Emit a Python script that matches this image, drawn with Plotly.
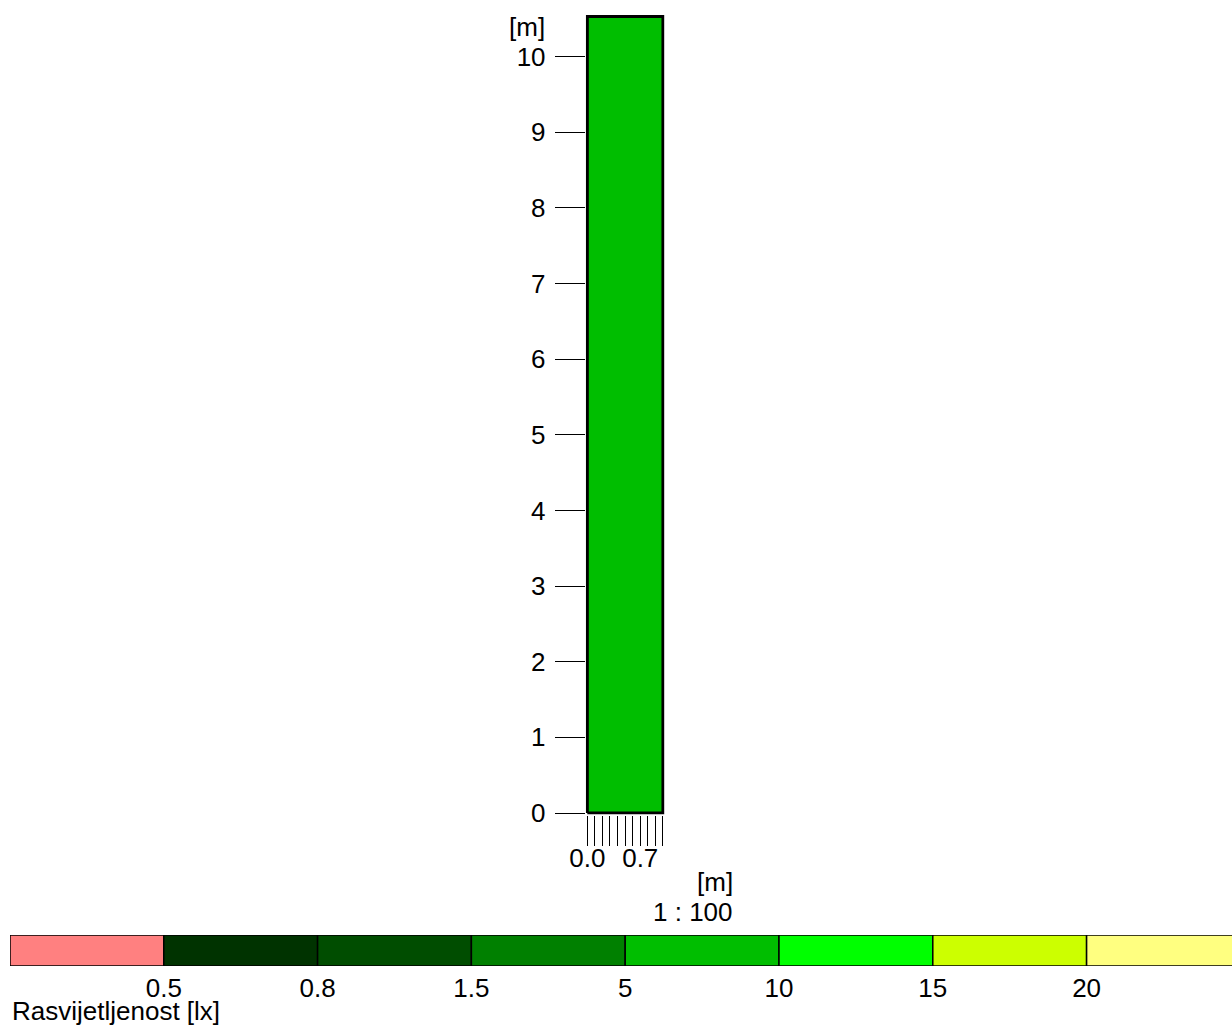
import plotly.graph_objects as go

# ---- data ----
room_width = 1.0          # m
room_length = 10.53       # m
room_value_color = "#00BE00"   # 5 - 10 lx class

y_tick_vals = [0, 1, 2, 3, 4, 5, 6, 7, 8, 9, 10]
x_tick_vals = [0.0, 0.1, 0.2, 0.3, 0.4, 0.5, 0.6, 0.7, 0.8, 0.9, 1.0]
x_tick_text = ["0.0", "", "", "", "", "", "", "0.7", "", "", ""]

legend_bounds = ["0.5", "0.8", "1.5", "5", "10", "15", "20"]
legend_colors = ["#FF8080", "#003300", "#004D00", "#008000",
                 "#00BE00", "#00FF00", "#CCFF00", "#FFFF80"]
legend_title = "Rasvijetljenost [lx]"
scale_text = "1 : 100"
unit_text = "[m]"

W, H = 1232, 1025
FONT = "Liberation Sans, Arial, sans-serif"
FS = 26

# pixel mapping of the plan (equal scale)
px_per_m = 75.65
x0_px, y0_px = 587.3, 813.0
x_rng = [-0.02, 1.02]
y_rng = [-0.02, 10.6]

fig = go.Figure()

# room outline
fig.add_trace(go.Scatter(
    x=[0, room_width, room_width, 0, 0],
    y=[0, 0, room_length, room_length, 0],
    mode="lines", fill="toself", fillcolor=room_value_color,
    line=dict(color="black", width=3),
    hoverinfo="skip", showlegend=False, xaxis="x", yaxis="y"))

# legend colour scale
n = len(legend_colors)
fig.add_trace(go.Bar(
    x=[1] * n, base=list(range(n)), y=[0] * n, orientation="h",
    width=1, marker=dict(color=legend_colors, line=dict(color="black", width=1.5)),
    hoverinfo="skip", showlegend=False, xaxis="x2", yaxis="y2"))

seg_px = 153.8
fig.update_layout(
    template="none",
    width=W, height=H, margin=dict(l=0, r=0, t=0, b=0, pad=0, autoexpand=False),
    paper_bgcolor="white", plot_bgcolor="white",
    font=dict(family=FONT, size=FS, color="black"),
    barmode="overlay", showlegend=False,
    xaxis=dict(domain=[(x0_px + x_rng[0] * px_per_m) / W, (x0_px + x_rng[1] * px_per_m) / W],
               range=x_rng, tickvals=x_tick_vals, ticktext=x_tick_text,
               ticks="outside", ticklen=30, tickwidth=1, tickcolor="black",
               ticklabelstandoff=-10, automargin=False,
               showgrid=False, zeroline=False, showline=False,
               tickfont=dict(size=FS), fixedrange=True),
    yaxis=dict(domain=[(H - (y0_px - y_rng[0] * px_per_m)) / H, (H - (y0_px - y_rng[1] * px_per_m)) / H],
               range=y_rng, tickvals=y_tick_vals,
               ticks="outside", ticklen=30, tickwidth=1, tickcolor="black",
               ticklabelstandoff=4, automargin=False,
               showgrid=False, zeroline=False, showline=False,
               tickfont=dict(size=FS), fixedrange=True),
    xaxis2=dict(domain=[10 / W, 1], range=[0, (W - 10) / seg_px], anchor="y2",
                tickvals=list(range(1, n)), ticktext=legend_bounds,
                ticks="", ticklabelstandoff=4, automargin=False,
                showgrid=False, zeroline=False, showline=False,
                tickfont=dict(size=FS), fixedrange=True),
    yaxis2=dict(domain=[(H - 966) / H, (H - 935) / H], range=[-0.5, 0.5],
                anchor="x2", visible=False, automargin=False, fixedrange=True),
    annotations=[
        dict(text=unit_text, xref="paper", yref="paper", x=527 / W, y=1 - 27 / H,
             xanchor="center", yanchor="middle", showarrow=False),
        dict(text=unit_text, xref="paper", yref="paper", x=715 / W, y=1 - 882 / H,
             xanchor="center", yanchor="middle", showarrow=False),
        dict(text=scale_text, xref="paper", yref="paper", x=693 / W, y=1 - 912 / H,
             xanchor="center", yanchor="middle", showarrow=False),
        dict(text=legend_title, xref="paper", yref="paper", x=10 / W, y=1 - 1011 / H,
             xanchor="left", yanchor="middle", showarrow=False),
    ],
)

fig.write_html("out.html", config={"displayModeBar": False},
               post_script="document.body.style.margin='0';document.body.style.overflow='hidden';")
